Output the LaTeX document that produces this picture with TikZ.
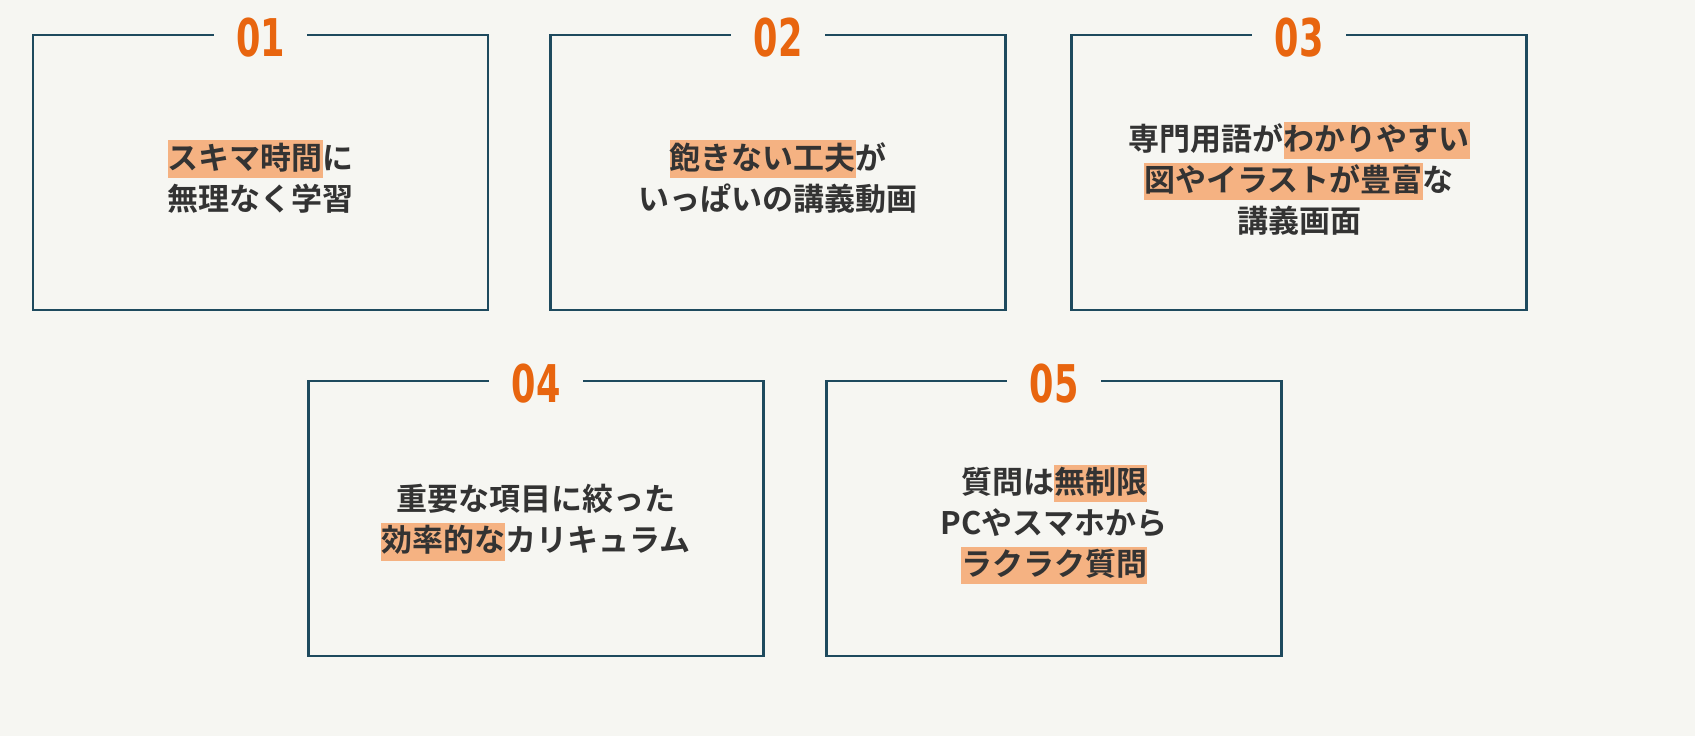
\documentclass[tikz,border=0pt]{standalone}
\usepackage{fontspec}
\setmainfont{Noto Sans CJK JP}[BoldFont={* Bold}]
\newfontfamily\numfont{DejaVu Sans Condensed}
\definecolor{bg}{HTML}{F6F6F2}
\definecolor{frame}{HTML}{1E4A5E}
\definecolor{numorange}{HTML}{E8650F}
\definecolor{hl}{HTML}{F5B282}
\definecolor{txt}{HTML}{333333}
\newcommand{\hl}[1]{{\setlength{\fboxsep}{0pt}\colorbox{hl}{\rule[-0.28em]{0pt}{1.22em}#1}}}
\begin{document}
\begin{tikzpicture}[
		x=0.5pt, y=-0.5pt,
		card/.style={draw=frame, line width=1.2pt, minimum width=227.5pt, minimum height=137.5pt, inner sep=0pt},
		numlabel/.style={fill=bg, text=numorange, font=\numfont\bfseries\fontsize{26}{26}\selectfont, inner xsep=15pt, inner ysep=0pt, xscale=0.75},
		cardtext/.style={text=txt, align=center, font=\bfseries\fontsize{15.5}{20.5}\selectfont}
	]
  \fill[bg] (0,0) rectangle (1695,736);
  % cards
  \node (c1) [card] at (260.5, 172.5) {};
  \node (c2) [card] at (778, 172.5) {};
  \node (c3) [card] at (1299, 172.5) {};
  \node (c4) [card] at (536, 518.5) {};
  \node (c5) [card] at (1054, 518.5) {};
  % numbers
  \foreach \c/\n in {c1/01, c2/02, c3/03, c4/04, c5/05}
    \node (\c num) [numlabel] at ([yshift=-2pt]\c.north) {\n};
  % texts
  \node (t1) [cardtext] at ([yshift=-2pt]c1) {\hl{スキマ時間}に\\無理なく学習};
  \node (t2) [cardtext] at ([yshift=-2pt]c2) {\hl{飽きない工夫}が\\いっぱいの講義動画};
  \node (t3) [cardtext] at ([yshift=-3pt]c3) {専門用語が\hl{わかりやすい}\\\hl{図やイラストが豊富}な\\講義画面};
  \node (t4) [cardtext] at ([yshift=-2pt]c4) {重要な項目に絞った\\\hl{効率的な}カリキュラム};
  \node (t5) [cardtext] at ([yshift=-3pt]c5) {質問は\hl{無制限}\\PCやスマホから\\\hl{ラクラク質問}};
\end{tikzpicture}
\end{document}
